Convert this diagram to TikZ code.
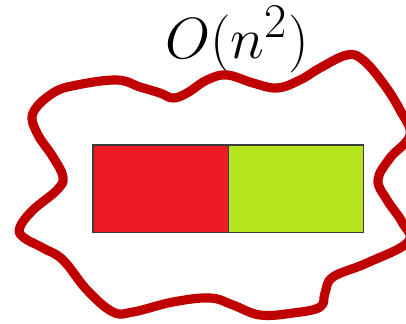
\documentclass[tikz,border=0pt]{standalone}
\usepackage{xcolor}
\usepackage{tikz}
\usetikzlibrary{positioning}
\definecolor{blobred}{RGB}{192,0,0}
\definecolor{hot}{RGB}{237,28,36}
\definecolor{lime}{RGB}{181,230,29}
\definecolor{edge}{RGB}{60,60,60}

\begin{document}
\begin{tikzpicture}[
    x=0.025cm, y=-0.025cm,
    cell/.style={rectangle, draw=edge, line width=0.8pt, inner sep=0pt, outer sep=0pt,
                 minimum width=3.38cm, minimum height=2.18cm},
    blob/.style={draw=blobred, line width=6.5pt, line join=round}
]
\useasboundingbox (0,0) rectangle (406,323);
\clip (0,0) rectangle (406,323);
\node[cell, fill=hot, anchor=north west] (left) at (93,145) {};
\node[cell, fill=lime, right=0pt of left] (right) {};
\node[scale=1.66] (cost) at (237,40) {\Huge $O(n^2)$};
% wobbly outline round both cells
\draw[blob] plot[smooth cycle, tension=0.65] coordinates {
    (33,113) (53,93) (77,85) (117,80) (140,87) (160,93) (173,98) (187,93)
    (207,80) (227,75) (253,83) (277,88) (300,80) (320,68) (347,55) (363,60)
    (383,83) (400,110) (410,135) (390,158) (378,180) (387,200) (402,222)
    (408,242) (367,263) (333,277) (325,293) (320,307) (293,313) (260,315)
    (233,305) (210,298) (173,302) (133,312) (113,312) (87,290) (63,260)
    (43,248) (23,237) (20,227) (33,210) (57,190) (63,177) (53,157) (37,133)};
\end{tikzpicture}
\end{document}
